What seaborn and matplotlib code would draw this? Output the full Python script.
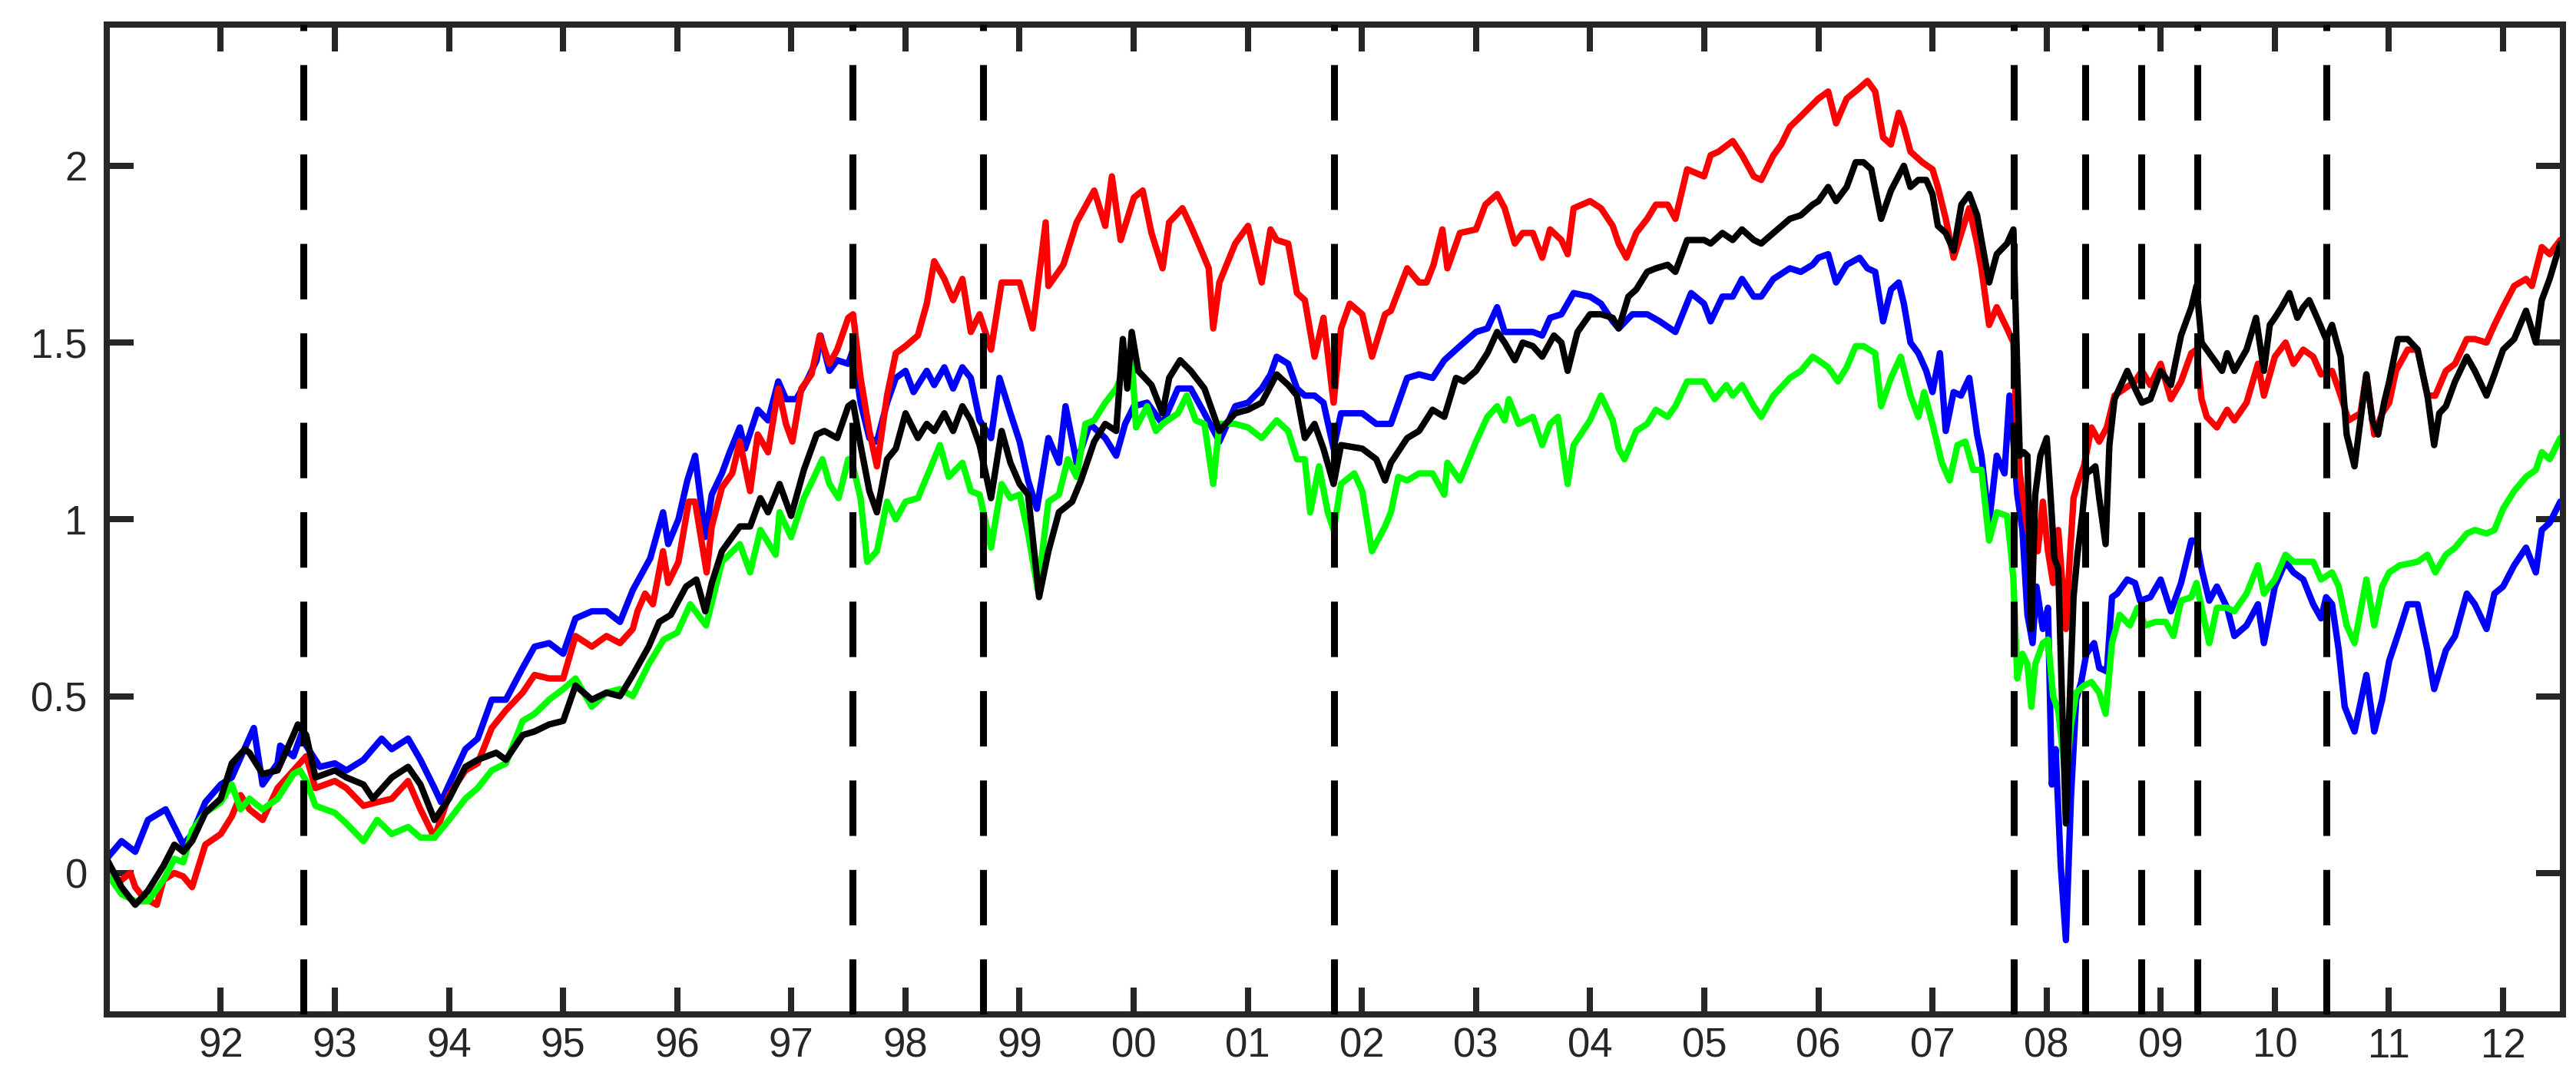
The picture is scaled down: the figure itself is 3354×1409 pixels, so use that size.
import pandas as pd
import matplotlib
matplotlib.use('Agg')
import matplotlib.pyplot as plt
import seaborn as sns

# --- values (decimal year, level) ---
red_t = [1991.000, 1991.092, 1991.208, 1991.251, 1991.324, 1991.440, 1991.498, 1991.594, 1991.672, 1991.749,
         1991.865, 1992.000, 1992.097, 1992.174, 1992.251, 1992.367, 1992.498, 1992.637, 1992.749, 1992.830,
         1993.000, 1993.101, 1993.251, 1993.371, 1993.499, 1993.642, 1993.750, 1993.873, 1994.001, 1994.144,
         1994.252, 1994.375, 1994.499, 1994.646, 1994.750, 1994.878, 1995.001, 1995.109, 1995.252, 1995.380,
         1995.499, 1995.611, 1995.652, 1995.719, 1995.787, 1995.876, 1995.921, 1996.011, 1996.101, 1996.157,
         1996.258, 1996.303, 1996.392, 1996.482, 1996.549, 1996.639, 1996.706, 1996.796, 1996.886, 1996.953,
         1997.009, 1997.088, 1997.177, 1997.249, 1997.334, 1997.402, 1997.499, 1997.541, 1997.607, 1997.684,
         1997.750, 1997.839, 1997.916, 1998.001, 1998.109, 1998.187, 1998.252, 1998.341, 1998.418, 1998.499,
         1998.573, 1998.650, 1998.750, 1998.843, 1999.001, 1999.114, 1999.229, 1999.253, 1999.384, 1999.500,
         1999.654, 1999.751, 1999.809, 1999.886, 2000.002, 2000.079, 2000.156, 2000.253, 2000.311, 2000.427,
         2000.500, 2000.581, 2000.658, 2000.697, 2000.751, 2000.890, 2001.002, 2001.122, 2001.199, 2001.253,
         2001.354, 2001.431, 2001.500, 2001.585, 2001.663, 2001.752, 2001.817, 2001.894, 2002.003, 2002.088,
         2002.203, 2002.254, 2002.397, 2002.501, 2002.567, 2002.628, 2002.705, 2002.749, 2002.859, 2003.000,
         2003.082, 2003.185, 2003.251, 2003.340, 2003.409, 2003.498, 2003.580, 2003.649, 2003.748, 2003.803,
         2003.855, 2003.999, 2004.095, 2004.198, 2004.250, 2004.318, 2004.404, 2004.500, 2004.576, 2004.679,
         2004.747, 2004.850, 2004.998, 2005.056, 2005.125, 2005.249, 2005.331, 2005.434, 2005.499, 2005.606,
         2005.674, 2005.750, 2005.846, 2006.000, 2006.086, 2006.155, 2006.248, 2006.361, 2006.430, 2006.498,
         2006.567, 2006.636, 2006.704, 2006.749, 2006.807, 2006.910, 2007.000, 2007.047, 2007.116, 2007.185,
         2007.253, 2007.322, 2007.391, 2007.429, 2007.496, 2007.563, 2007.653, 2007.709, 2007.732, 2007.765,
         2007.799, 2007.832, 2007.877, 2007.922, 2007.967, 2008.012, 2008.057, 2008.102, 2008.169, 2008.203,
         2008.236, 2008.281, 2008.326, 2008.393, 2008.461, 2008.528, 2008.595, 2008.685, 2008.775, 2008.835,
         2008.909, 2008.999, 2009.089, 2009.178, 2009.268, 2009.313, 2009.358, 2009.403, 2009.492, 2009.582,
         2009.645, 2009.752, 2009.852, 2009.904, 2010.000, 2010.094, 2010.163, 2010.249, 2010.336, 2010.405,
         2010.501, 2010.577, 2010.646, 2010.750, 2010.802, 2010.871, 2010.940, 2011.002, 2011.061, 2011.164,
         2011.251, 2011.337, 2011.406, 2011.499, 2011.579, 2011.682, 2011.752, 2011.855, 2011.924, 2012.000,
         2012.097, 2012.201, 2012.252, 2012.339, 2012.408, 2012.501]
red_v = [0.01, -0.03, 0.00, -0.04, -0.07, -0.09, -0.02, 0.00, -0.01, -0.04,
         0.08, 0.11, 0.16, 0.22, 0.18, 0.15, 0.24, 0.29, 0.33, 0.24,
         0.26, 0.24, 0.19, 0.20, 0.21, 0.26, 0.18, 0.10, 0.22, 0.29,
         0.31, 0.41, 0.46, 0.51, 0.56, 0.55, 0.55, 0.67, 0.64, 0.67,
         0.65, 0.69, 0.74, 0.79, 0.76, 0.91, 0.82, 0.88, 1.05, 1.05,
         0.85, 0.98, 1.09, 1.13, 1.22, 1.08, 1.24, 1.19, 1.37, 1.27,
         1.22, 1.37, 1.41, 1.52, 1.44, 1.48, 1.57, 1.58, 1.40, 1.25,
         1.15, 1.35, 1.47, 1.49, 1.52, 1.61, 1.73, 1.68, 1.62, 1.68,
         1.53, 1.58, 1.48, 1.67, 1.67, 1.54, 1.84, 1.66, 1.72, 1.84,
         1.93, 1.83, 1.97, 1.79, 1.91, 1.93, 1.81, 1.71, 1.84, 1.88,
         1.83, 1.77, 1.71, 1.54, 1.67, 1.78, 1.83, 1.67, 1.82, 1.79,
         1.78, 1.64, 1.62, 1.46, 1.57, 1.33, 1.54, 1.61, 1.58, 1.46,
         1.58, 1.59, 1.71, 1.67, 1.67, 1.72, 1.82, 1.71, 1.81, 1.82,
         1.89, 1.92, 1.88, 1.78, 1.81, 1.81, 1.74, 1.82, 1.79, 1.75,
         1.88, 1.90, 1.88, 1.83, 1.78, 1.74, 1.81, 1.85, 1.89, 1.89,
         1.85, 1.99, 1.97, 2.03, 2.04, 2.07, 2.03, 1.97, 1.96, 2.03,
         2.06, 2.11, 2.14, 2.19, 2.21, 2.12, 2.19, 2.22, 2.24, 2.21,
         2.08, 2.06, 2.15, 2.11, 2.04, 2.01, 1.99, 1.94, 1.85, 1.74,
         1.81, 1.88, 1.78, 1.71, 1.55, 1.60, 1.54, 1.50, 1.31, 1.13,
         1.05, 0.97, 1.02, 0.91, 1.05, 0.91, 0.82, 0.97, 0.69, 0.89,
         1.06, 1.11, 1.15, 1.26, 1.22, 1.26, 1.35, 1.37, 1.39, 1.42,
         1.38, 1.44, 1.34, 1.39, 1.47, 1.48, 1.34, 1.29, 1.26, 1.31,
         1.28, 1.33, 1.44, 1.35, 1.46, 1.50, 1.44, 1.48, 1.46, 1.41,
         1.42, 1.35, 1.28, 1.30, 1.41, 1.24, 1.30, 1.33, 1.42, 1.48,
         1.48, 1.35, 1.35, 1.42, 1.44, 1.51, 1.51, 1.50, 1.55, 1.60,
         1.66, 1.68, 1.66, 1.77, 1.75, 1.79]

blue_t = [1991.000, 1991.131, 1991.251, 1991.363, 1991.517, 1991.672, 1991.749, 1991.865, 1992.000, 1992.097,
          1992.290, 1992.367, 1992.498, 1992.521, 1992.637, 1992.715, 1992.749, 1992.869, 1993.000, 1993.101,
          1993.251, 1993.410, 1993.499, 1993.642, 1993.750, 1993.873, 1993.931, 1994.001, 1994.144, 1994.252,
          1994.375, 1994.499, 1994.646, 1994.750, 1994.878, 1995.001, 1995.109, 1995.252, 1995.380, 1995.499,
          1995.611, 1995.764, 1995.876, 1995.921, 1996.011, 1996.089, 1996.157, 1996.246, 1996.303, 1996.392,
          1996.460, 1996.549, 1996.594, 1996.706, 1996.796, 1996.886, 1996.953, 1997.043, 1997.133, 1997.222,
          1997.256, 1997.334, 1997.402, 1997.499, 1997.541, 1997.607, 1997.684, 1997.750, 1997.839, 1997.916,
          1998.001, 1998.071, 1998.187, 1998.252, 1998.341, 1998.418, 1998.499, 1998.573, 1998.650, 1998.750,
          1998.824, 1998.920, 1999.001, 1999.075, 1999.152, 1999.253, 1999.345, 1999.403, 1999.500, 1999.616,
          1999.751, 1999.847, 1999.925, 2000.002, 2000.118, 2000.253, 2000.388, 2000.500, 2000.620, 2000.751,
          2000.890, 2001.002, 2001.122, 2001.199, 2001.253, 2001.354, 2001.431, 2001.500, 2001.585, 2001.663,
          2001.752, 2001.817, 2002.003, 2002.126, 2002.254, 2002.397, 2002.501, 2002.619, 2002.722, 2002.859,
          2003.000, 2003.100, 2003.185, 2003.251, 2003.374, 2003.498, 2003.580, 2003.649, 2003.748, 2003.855,
          2003.999, 2004.095, 2004.198, 2004.250, 2004.370, 2004.500, 2004.610, 2004.747, 2004.885, 2004.998,
          2005.056, 2005.159, 2005.249, 2005.331, 2005.434, 2005.499, 2005.606, 2005.750, 2005.846, 2005.949,
          2006.000, 2006.086, 2006.155, 2006.248, 2006.361, 2006.430, 2006.498, 2006.567, 2006.636, 2006.704,
          2006.749, 2006.807, 2006.876, 2006.945, 2007.000, 2007.065, 2007.116, 2007.185, 2007.250, 2007.322,
          2007.391, 2007.429, 2007.496, 2007.563, 2007.631, 2007.675, 2007.709, 2007.743, 2007.788, 2007.832,
          2007.877, 2007.911, 2007.967, 2008.012, 2008.046, 2008.079, 2008.124, 2008.169, 2008.214, 2008.259,
          2008.303, 2008.348, 2008.416, 2008.461, 2008.528, 2008.573, 2008.618, 2008.707, 2008.775, 2008.819,
          2008.909, 2008.999, 2009.089, 2009.178, 2009.268, 2009.313, 2009.358, 2009.425, 2009.492, 2009.582,
          2009.645, 2009.752, 2009.852, 2009.904, 2010.000, 2010.094, 2010.163, 2010.249, 2010.336, 2010.405,
          2010.449, 2010.501, 2010.560, 2010.612, 2010.698, 2010.802, 2010.871, 2010.940, 2011.002, 2011.095,
          2011.164, 2011.251, 2011.337, 2011.396, 2011.499, 2011.579, 2011.682, 2011.752, 2011.855, 2011.924,
          2012.000, 2012.097, 2012.201, 2012.287, 2012.339, 2012.408, 2012.501]
blue_v = [0.04, 0.09, 0.06, 0.15, 0.18, 0.08, 0.11, 0.20, 0.25, 0.27,
          0.41, 0.25, 0.31, 0.36, 0.33, 0.40, 0.36, 0.30, 0.31, 0.29,
          0.32, 0.38, 0.35, 0.38, 0.32, 0.24, 0.20, 0.25, 0.35, 0.38,
          0.49, 0.49, 0.58, 0.64, 0.65, 0.62, 0.72, 0.74, 0.74, 0.71,
          0.80, 0.89, 1.02, 0.93, 1.00, 1.11, 1.18, 0.95, 1.07, 1.13,
          1.19, 1.26, 1.20, 1.31, 1.28, 1.39, 1.34, 1.34, 1.39, 1.45,
          1.52, 1.42, 1.45, 1.44, 1.48, 1.33, 1.23, 1.22, 1.33, 1.40,
          1.42, 1.36, 1.42, 1.38, 1.43, 1.37, 1.43, 1.40, 1.28, 1.23,
          1.40, 1.30, 1.22, 1.11, 1.03, 1.23, 1.16, 1.32, 1.16, 1.27,
          1.23, 1.18, 1.27, 1.32, 1.33, 1.27, 1.37, 1.37, 1.30, 1.22,
          1.32, 1.33, 1.37, 1.41, 1.46, 1.44, 1.37, 1.35, 1.35, 1.33,
          1.20, 1.30, 1.30, 1.27, 1.27, 1.40, 1.41, 1.40, 1.45, 1.49,
          1.53, 1.54, 1.60, 1.53, 1.53, 1.53, 1.52, 1.57, 1.58, 1.64,
          1.63, 1.61, 1.56, 1.54, 1.58, 1.58, 1.56, 1.53, 1.64, 1.61,
          1.56, 1.63, 1.63, 1.68, 1.63, 1.63, 1.68, 1.71, 1.70, 1.72,
          1.74, 1.75, 1.67, 1.72, 1.74, 1.71, 1.70, 1.56, 1.65, 1.67,
          1.61, 1.50, 1.47, 1.42, 1.36, 1.47, 1.25, 1.36, 1.35, 1.40,
          1.24, 1.18, 0.99, 1.18, 1.13, 1.35, 1.22, 1.07, 0.97, 0.73,
          0.65, 0.81, 0.69, 0.75, 0.25, 0.35, 0.02, -0.19, 0.22, 0.49,
          0.54, 0.62, 0.65, 0.58, 0.57, 0.78, 0.79, 0.83, 0.82, 0.77,
          0.78, 0.83, 0.74, 0.82, 0.94, 0.94, 0.86, 0.77, 0.81, 0.75,
          0.67, 0.70, 0.76, 0.65, 0.81, 0.88, 0.85, 0.83, 0.76, 0.72,
          0.78, 0.76, 0.63, 0.47, 0.40, 0.56, 0.40, 0.49, 0.60, 0.69,
          0.76, 0.76, 0.63, 0.52, 0.63, 0.67, 0.79, 0.76, 0.69, 0.79,
          0.81, 0.87, 0.92, 0.85, 0.97, 0.99, 1.05]

black_t = [1991.000, 1991.131, 1991.251, 1991.363, 1991.498, 1991.594, 1991.672, 1991.749, 1991.865, 1992.000,
           1992.097, 1992.212, 1992.251, 1992.367, 1992.498, 1992.637, 1992.676, 1992.749, 1992.830, 1993.000,
           1993.101, 1993.251, 1993.333, 1993.499, 1993.642, 1993.750, 1993.873, 1994.001, 1994.144, 1994.252,
           1994.414, 1994.499, 1994.646, 1994.750, 1994.878, 1995.001, 1995.109, 1995.252, 1995.380, 1995.499,
           1995.611, 1995.750, 1995.843, 1995.944, 1996.078, 1996.168, 1996.246, 1996.303, 1996.392, 1996.549,
           1996.639, 1996.729, 1996.796, 1996.897, 1996.998, 1997.110, 1997.222, 1997.290, 1997.402, 1997.499,
           1997.541, 1997.607, 1997.684, 1997.750, 1997.839, 1997.916, 1998.001, 1998.109, 1998.187, 1998.252,
           1998.341, 1998.418, 1998.499, 1998.573, 1998.650, 1998.750, 1998.843, 1998.920, 1999.001, 1999.075,
           1999.171, 1999.253, 1999.345, 1999.461, 1999.538, 1999.654, 1999.751, 1999.847, 1999.905, 1999.944,
           1999.983, 2000.040, 2000.156, 2000.253, 2000.311, 2000.407, 2000.500, 2000.620, 2000.751, 2000.890,
           2001.002, 2001.122, 2001.253, 2001.354, 2001.431, 2001.500, 2001.585, 2001.663, 2001.752, 2001.817,
           2002.003, 2002.126, 2002.203, 2002.254, 2002.397, 2002.501, 2002.619, 2002.722, 2002.825, 2002.894,
           2003.000, 2003.100, 2003.185, 2003.251, 2003.340, 2003.409, 2003.498, 2003.580, 2003.683, 2003.748,
           2003.803, 2003.889, 2003.999, 2004.095, 2004.198, 2004.250, 2004.335, 2004.404, 2004.500, 2004.576,
           2004.679, 2004.747, 2004.850, 2004.998, 2005.056, 2005.159, 2005.249, 2005.331, 2005.434, 2005.499,
           2005.606, 2005.750, 2005.846, 2005.949, 2006.000, 2006.086, 2006.155, 2006.248, 2006.327, 2006.395,
           2006.464, 2006.550, 2006.636, 2006.749, 2006.807, 2006.876, 2006.945, 2007.000, 2007.047, 2007.116,
           2007.185, 2007.253, 2007.322, 2007.391, 2007.429, 2007.496, 2007.563, 2007.653, 2007.709, 2007.743,
           2007.765, 2007.799, 2007.832, 2007.866, 2007.900, 2007.945, 2008.001, 2008.034, 2008.068, 2008.102,
           2008.135, 2008.169, 2008.203, 2008.236, 2008.270, 2008.315, 2008.348, 2008.393, 2008.427, 2008.461,
           2008.517, 2008.550, 2008.595, 2008.651, 2008.707, 2008.775, 2008.835, 2008.909, 2008.999, 2009.089,
           2009.178, 2009.268, 2009.313, 2009.358, 2009.448, 2009.537, 2009.582, 2009.645, 2009.752, 2009.835,
           2009.904, 2009.956, 2010.000, 2010.059, 2010.128, 2010.197, 2010.249, 2010.301, 2010.370, 2010.449,
           2010.501, 2010.577, 2010.629, 2010.698, 2010.750, 2010.802, 2010.854, 2010.905, 2010.957, 2011.002,
           2011.078, 2011.164, 2011.251, 2011.337, 2011.396, 2011.441, 2011.499, 2011.579, 2011.682, 2011.752,
           2011.855, 2011.924, 2012.000, 2012.097, 2012.201, 2012.287, 2012.339, 2012.408, 2012.501]
black_v = [0.04, -0.04, -0.09, -0.05, 0.02, 0.08, 0.06, 0.09, 0.17, 0.21,
           0.31, 0.35, 0.34, 0.28, 0.29, 0.39, 0.42, 0.39, 0.27, 0.29,
           0.27, 0.25, 0.21, 0.27, 0.30, 0.25, 0.15, 0.21, 0.30, 0.32,
           0.34, 0.32, 0.39, 0.40, 0.42, 0.43, 0.53, 0.49, 0.51, 0.50,
           0.56, 0.64, 0.71, 0.73, 0.81, 0.83, 0.74, 0.82, 0.91, 0.98,
           0.98, 1.06, 1.02, 1.10, 1.01, 1.14, 1.24, 1.25, 1.23, 1.32,
           1.33, 1.21, 1.08, 1.02, 1.17, 1.20, 1.30, 1.23, 1.27, 1.25,
           1.30, 1.25, 1.32, 1.28, 1.21, 1.06, 1.25, 1.16, 1.10, 1.07,
           0.78, 0.91, 1.02, 1.05, 1.11, 1.22, 1.27, 1.25, 1.51, 1.37,
           1.53, 1.42, 1.38, 1.30, 1.40, 1.45, 1.42, 1.37, 1.25, 1.30,
           1.31, 1.33, 1.41, 1.38, 1.35, 1.23, 1.27, 1.20, 1.10, 1.21,
           1.20, 1.17, 1.11, 1.16, 1.23, 1.25, 1.31, 1.29, 1.40, 1.39,
           1.42, 1.47, 1.53, 1.50, 1.45, 1.50, 1.49, 1.46, 1.52, 1.50,
           1.42, 1.53, 1.58, 1.58, 1.57, 1.54, 1.63, 1.65, 1.70, 1.71,
           1.72, 1.70, 1.79, 1.79, 1.78, 1.81, 1.79, 1.82, 1.79, 1.78,
           1.81, 1.85, 1.86, 1.89, 1.90, 1.94, 1.90, 1.94, 2.01, 2.01,
           1.99, 1.85, 1.93, 2.00, 1.94, 1.96, 1.96, 1.92, 1.83, 1.81,
           1.76, 1.89, 1.92, 1.86, 1.79, 1.67, 1.75, 1.78, 1.82, 1.42,
           1.18, 1.19, 1.18, 0.69, 1.07, 1.18, 1.23, 1.07, 0.89, 0.86,
           0.49, 0.14, 0.49, 0.78, 0.90, 1.02, 1.13, 1.14, 1.15, 1.06,
           0.93, 1.21, 1.34, 1.38, 1.42, 1.37, 1.33, 1.34, 1.42, 1.38,
           1.52, 1.60, 1.66, 1.50, 1.46, 1.42, 1.47, 1.42, 1.48, 1.57,
           1.42, 1.55, 1.57, 1.60, 1.64, 1.57, 1.60, 1.62, 1.57, 1.51,
           1.55, 1.46, 1.24, 1.15, 1.28, 1.41, 1.28, 1.24, 1.33, 1.39,
           1.51, 1.51, 1.48, 1.35, 1.21, 1.30, 1.32, 1.39, 1.46, 1.42,
           1.35, 1.41, 1.48, 1.51, 1.59, 1.50, 1.62, 1.68, 1.78]

green_t = [1991.000, 1991.131, 1991.251, 1991.363, 1991.498, 1991.594, 1991.672, 1991.749, 1991.865, 1992.000,
           1992.097, 1992.174, 1992.251, 1992.367, 1992.498, 1992.637, 1992.695, 1992.749, 1992.830, 1993.000,
           1993.101, 1993.251, 1993.371, 1993.499, 1993.642, 1993.750, 1993.873, 1994.001, 1994.144, 1994.252,
           1994.375, 1994.499, 1994.646, 1994.750, 1994.878, 1995.001, 1995.109, 1995.252, 1995.380, 1995.499,
           1995.611, 1995.750, 1995.882, 1996.002, 1996.114, 1996.253, 1996.392, 1996.549, 1996.639, 1996.729,
           1996.863, 1996.897, 1996.998, 1997.110, 1997.200, 1997.272, 1997.334, 1997.414, 1997.499, 1997.541,
           1997.607, 1997.665, 1997.750, 1997.839, 1997.916, 1998.001, 1998.109, 1998.187, 1998.302, 1998.380,
           1998.499, 1998.573, 1998.650, 1998.750, 1998.843, 1998.920, 1999.001, 1999.075, 1999.160, 1999.253,
           1999.345, 1999.423, 1999.500, 1999.577, 1999.654, 1999.751, 1999.847, 1999.925, 1999.983, 2000.021,
           2000.118, 2000.195, 2000.253, 2000.388, 2000.465, 2000.543, 2000.620, 2000.697, 2000.751, 2000.890,
           2001.002, 2001.122, 2001.253, 2001.354, 2001.431, 2001.500, 2001.547, 2001.624, 2001.701, 2001.752,
           2001.817, 2001.933, 2002.003, 2002.088, 2002.203, 2002.254, 2002.319, 2002.397, 2002.501, 2002.619,
           2002.722, 2002.749, 2002.859, 2003.000, 2003.100, 2003.185, 2003.251, 2003.288, 2003.374, 2003.498,
           2003.580, 2003.649, 2003.718, 2003.803, 2003.855, 2003.999, 2004.095, 2004.198, 2004.250, 2004.301,
           2004.404, 2004.500, 2004.576, 2004.679, 2004.747, 2004.850, 2004.998, 2005.091, 2005.194, 2005.249,
           2005.331, 2005.434, 2005.499, 2005.606, 2005.750, 2005.846, 2005.949, 2006.000, 2006.086, 2006.172,
           2006.248, 2006.327, 2006.395, 2006.498, 2006.550, 2006.636, 2006.721, 2006.807, 2006.876, 2006.927,
           2007.000, 2007.082, 2007.150, 2007.219, 2007.288, 2007.356, 2007.429, 2007.496, 2007.563, 2007.653,
           2007.687, 2007.709, 2007.743, 2007.788, 2007.832, 2007.866, 2007.900, 2007.967, 2008.012, 2008.057,
           2008.102, 2008.169, 2008.214, 2008.259, 2008.326, 2008.393, 2008.461, 2008.517, 2008.573, 2008.640,
           2008.730, 2008.797, 2008.864, 2008.954, 2009.044, 2009.111, 2009.178, 2009.268, 2009.313, 2009.358,
           2009.425, 2009.492, 2009.582, 2009.645, 2009.752, 2009.852, 2009.904, 2010.000, 2010.094, 2010.163,
           2010.249, 2010.336, 2010.405, 2010.501, 2010.560, 2010.629, 2010.698, 2010.802, 2010.871, 2010.940,
           2011.002, 2011.095, 2011.251, 2011.337, 2011.406, 2011.499, 2011.579, 2011.682, 2011.752, 2011.855,
           2011.924, 2012.000, 2012.097, 2012.201, 2012.287, 2012.339, 2012.408, 2012.501]
green_v = [0.00, -0.06, -0.08, -0.08, -0.02, 0.04, 0.03, 0.12, 0.17, 0.20,
           0.25, 0.18, 0.21, 0.18, 0.21, 0.28, 0.29, 0.26, 0.19, 0.17,
           0.14, 0.09, 0.15, 0.11, 0.13, 0.10, 0.10, 0.15, 0.21, 0.24,
           0.29, 0.31, 0.43, 0.45, 0.49, 0.52, 0.55, 0.47, 0.51, 0.52,
           0.50, 0.59, 0.66, 0.68, 0.76, 0.70, 0.88, 0.93, 0.85, 0.97,
           0.90, 1.02, 0.95, 1.06, 1.12, 1.17, 1.10, 1.06, 1.17, 1.15,
           1.06, 0.88, 0.91, 1.05, 1.00, 1.05, 1.06, 1.12, 1.21, 1.12,
           1.16, 1.08, 1.07, 0.92, 1.10, 1.06, 1.07, 0.96, 0.80, 1.05,
           1.07, 1.17, 1.12, 1.27, 1.28, 1.33, 1.37, 1.43, 1.46, 1.26,
           1.32, 1.25, 1.27, 1.30, 1.35, 1.28, 1.27, 1.10, 1.27, 1.27,
           1.26, 1.23, 1.28, 1.25, 1.17, 1.17, 1.02, 1.15, 1.02, 0.97,
           1.10, 1.13, 1.08, 0.91, 0.98, 1.02, 1.12, 1.11, 1.13, 1.13,
           1.07, 1.16, 1.11, 1.22, 1.29, 1.32, 1.28, 1.34, 1.27, 1.29,
           1.21, 1.27, 1.29, 1.10, 1.21, 1.28, 1.35, 1.28, 1.20, 1.17,
           1.25, 1.27, 1.31, 1.29, 1.32, 1.39, 1.39, 1.34, 1.38, 1.35,
           1.38, 1.32, 1.29, 1.35, 1.40, 1.42, 1.46, 1.45, 1.43, 1.39,
           1.43, 1.49, 1.49, 1.47, 1.32, 1.40, 1.46, 1.35, 1.29, 1.36,
           1.27, 1.16, 1.11, 1.21, 1.22, 1.14, 1.14, 0.94, 1.02, 1.01,
           0.91, 0.83, 0.55, 0.62, 0.59, 0.47, 0.59, 0.65, 0.66, 0.50,
           0.46, 0.26, 0.42, 0.51, 0.53, 0.54, 0.51, 0.45, 0.65, 0.73,
           0.70, 0.75, 0.70, 0.71, 0.71, 0.67, 0.77, 0.78, 0.82, 0.75,
           0.65, 0.75, 0.75, 0.74, 0.79, 0.87, 0.79, 0.83, 0.90, 0.88,
           0.88, 0.88, 0.83, 0.85, 0.81, 0.70, 0.65, 0.83, 0.70, 0.81,
           0.85, 0.87, 0.88, 0.90, 0.85, 0.90, 0.92, 0.96, 0.97, 0.96,
           0.97, 1.03, 1.08, 1.12, 1.14, 1.19, 1.17, 1.23]

event_years = [1992.722, 1997.536, 1998.682, 2001.755, 2007.712, 2008.341, 2008.832, 2009.322, 2010.449]
tick_years = list(range(1992, 2013))
tick_labels = ['%02d' % (y % 100) for y in tick_years]
y_ticks = [0, 0.5, 1, 1.5, 2]
y_labels = ['0', '0.5', '1', '1.5', '2']

# long table for seaborn (draw order: blue, red, green, black on top)
frames = []
for name, t, v in [('blue', blue_t, blue_v), ('red', red_t, red_v),
                   ('green', green_t, green_v), ('black', black_t, black_v)]:
    frames.append(pd.DataFrame({'year': t, 'value': v, 'series': name}))
df = pd.concat(frames, ignore_index=True)

sns.set_theme(style='white')
plt.rcParams['font.family'] = ['Liberation Sans', 'DejaVu Sans']
edge = '#262626'

fig = plt.figure(figsize=(33.55, 14.09), dpi=100)
ax = fig.add_axes([0.04137, 0.0625, 0.9532, 0.9150])

palette = {'blue': '#0000ff', 'red': '#ff0000', 'green': '#00ff00', 'black': '#000000'}
sns.lineplot(data=df, x='year', y='value', hue='series',
             hue_order=['blue', 'red', 'green', 'black'], palette=palette,
             estimator=None, sort=False, linewidth=6, legend=False, ax=ax)

for xv in event_years:
    ax.axvline(xv, color='black', lw=6.5, ls=(0, (8, 4.9)), zorder=5)

ax.set_xlim(1991.0, 2012.523)
ax.set_ylim(-0.4, 2.4)
ax.set_xticks(tick_years)
ax.set_xticklabels(tick_labels)
ax.set_yticks(y_ticks)
ax.set_yticklabels(y_labels)
ax.set_xlabel('')
ax.set_ylabel('')
ax.grid(False)

for s in ax.spines.values():
    s.set_visible(True)
    s.set_linewidth(5.8)
    s.set_color(edge)
ax.tick_params(axis='both', direction='in', length=25, width=5.8, color=edge,
               labelcolor=edge, labelsize=38, top=True, right=True, bottom=True, left=True)
ax.tick_params(axis='x', pad=12)
ax.tick_params(axis='y', pad=18)

fig.savefig('out.png', dpi=100)
